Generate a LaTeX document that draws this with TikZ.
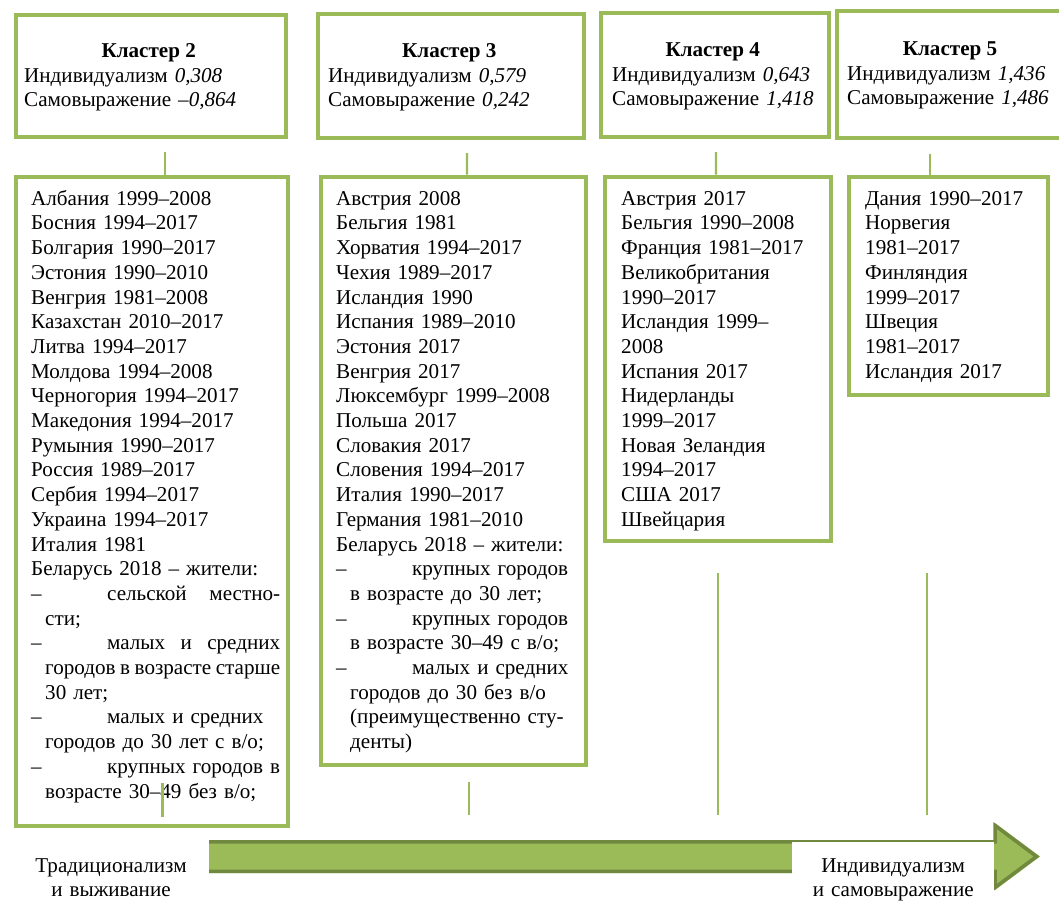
\documentclass[tikz,border=0pt]{standalone}
\usepackage{fontspec}
\setmainfont{Liberation Serif}
\definecolor{gborder}{HTML}{9BBB59}
\definecolor{gdark}{HTML}{71893F}
\newcommand\fs{\fontsize{21.1pt}{24.7pt}\selectfont}
\newcommand\fst{\rule{0pt}{17.3pt}}
\newcommand\dItem[1]{\makebox[76pt][l]{–}#1}
\newcommand\cont[1]{\hspace*{14pt}#1}
\newcommand\jline[1]{\leavevmode\hbox to 249pt{#1}}
\newcommand\fg{\hskip 0pt plus 1fil\relax}
\begin{document}
\begin{tikzpicture}[x=1pt,y=-1pt,
  box/.style={draw=gborder, line width=4pt, inner sep=0pt, anchor=north west},
  link/.style={draw=gborder, line width=2.2pt},
  txt/.style={font=\fs, inner sep=0pt, anchor=north west, align=left},
  title/.style={font=\fs\bfseries, inner sep=0pt, anchor=base}]
\useasboundingbox (0,0) rectangle (1059,902);
\clip (0,0) rectangle (1059,902);

% header boxes
\node[box, minimum width=270pt, minimum height=122.3pt] (h1) at (13.7,13) {};
\node[box, minimum width=266pt, minimum height=124.3pt] (h2) at (316.3,12) {};
\node[box, minimum width=228pt, minimum height=124.3pt] (h3) at (598.7,11) {};
\node[box, minimum width=229.7pt, minimum height=127.3pt] (h4) at (835.3,8.7) {};

% list boxes
\node[box, minimum width=272.6pt, minimum height=649pt] (l1) at (13.7,174.7) {};
\node[box, minimum width=265.3pt, minimum height=588.3pt] (l2) at (318.7,174.7) {};
\node[box, minimum width=225.7pt, minimum height=364pt] (l3) at (603,174.7) {};
\node[box, minimum width=199pt, minimum height=218.3pt] (l4) at (847,174.7) {};

% header texts
\node[title] (t1) at (148.7,57) {Кластер 2};
\node[txt, text width=250pt] (v1) at (24,64.7) {\fst Индивидуализм \textit{0,308}\\Самовыражение \textit{–0,864}};
\node[title] (t2) at (449.3,57) {Кластер 3};
\node[txt, text width=245pt] (v2) at (328,64.7) {\fst Индивидуализм \textit{0,579}\\Самовыражение \textit{0,242}};
\node[title] (t3) at (712.7,56) {Кластер 4};
\node[txt, text width=215pt] (v3) at (612,63.7) {\fst Индивидуализм \textit{0,643}\\Самовыражение \textit{1,418}};
\node[title] (t4) at (950,55) {Кластер 5};
\node[txt, text width=215pt] (v4) at (847,62.7) {\fst Индивидуализм \textit{1,436}\\Самовыражение \textit{1,486}};

% list texts
\node[txt, text width=262pt] (x1) at (31,187.7) {\fst Албания 1999–2008\\
Босния 1994–2017\\
Болгария 1990–2017\\
Эстония 1990–2010\\
Венгрия 1981–2008\\
Казахстан 2010–2017\\
Литва 1994–2017\\
Молдова 1994–2008\\
Черногория 1994–2017\\
Македония 1994–2017\\
Румыния 1990–2017\\
Россия 1989–2017\\
Сербия 1994–2017\\
Украина 1994–2017\\
Италия 1981\\
Беларусь 2018 – жители:\\
\jline{\dItem{сельской}\hfill местно-}\\
\cont{сти;}\\
\jline{\dItem{малых}\hfill и\hfill средних}\\
\leavevmode\hspace*{14pt}\hbox to 235pt{городов\fg в\fg возрасте\fg старше}\\
\cont{30 лет;}\\
\dItem{малых и средних}\\
\cont{городов до 30 лет с в/о;}\\
\dItem{крупных городов в}\\
\cont{возрасте 30–49 без в/о;}};

\node[txt, text width=245pt] (x2) at (336,187.7) {\fst Австрия 2008\\
Бельгия 1981\\
Хорватия 1994–2017\\
Чехия 1989–2017\\
Исландия 1990\\
Испания 1989–2010\\
Эстония 2017\\
Венгрия 2017\\
Люксембург 1999–2008\\
Польша 2017\\
Словакия 2017\\
Словения 1994–2017\\
Италия 1990–2017\\
Германия 1981–2010\\
Беларусь 2018 – жители:\\
\dItem{крупных городов}\\
\cont{в возрасте до 30 лет;}\\
\dItem{крупных городов}\\
\cont{в возрасте 30–49 с в/о;}\\
\dItem{малых и средних}\\
\cont{городов до 30 без в/о}\\
\cont{(преимущественно сту-}\\
\cont{денты)}};

\node[txt, text width=205pt] (x3) at (621,187.7) {\fst Австрия 2017\\
Бельгия 1990–2008\\
Франция 1981–2017\\
Великобритания\\
1990–2017\\
Исландия 1999–\\
2008\\
Испания 2017\\
Нидерланды\\
1999–2017\\
Новая Зеландия\\
1994–2017\\
США 2017\\
Швейцария};

\node[txt, text width=180pt] (x4) at (865,187.7) {\fst Дания 1990–2017\\
Норвегия\\
1981–2017\\
Финляндия\\
1999–2017\\
Швеция\\
1981–2017\\
Исландия 2017};

% connectors header -> list
\draw[link] ([xshift=14.3pt,yshift=-12.7pt]h1.south) -- ([xshift=13pt]l1.north);
\draw[link] ([xshift=15.7pt,yshift=-12.7pt]h2.south) -- ([xshift=13.65pt]l2.north);
\draw[link] ([xshift=1.3pt,yshift=-12.7pt]h3.south) -- ([xshift=-1.85pt]l3.north);
\draw[link] ([xshift=-22.15pt,yshift=-14pt]h4.south) -- ([xshift=-18.5pt]l4.north);

% lower vertical lines
\coordinate (v1a) at (162.5,783); \coordinate (v1b) at (162.5,817);
\coordinate (v2a) at (469,782);   \coordinate (v2b) at (469,815);
\coordinate (v3a) at (718,573);   \coordinate (v3b) at (718,815);
\coordinate (v4a) at (927,573);   \coordinate (v4b) at (927,815);
\draw[link] (v1a) -- (v1b);
\draw[link] (v2a) -- (v2b);
\draw[link] (v3a) -- (v3b);
\draw[link] (v4a) -- (v4b);

% big arrow
\fill[gborder] (209,840) -- (995,840) -- (995,823) -- (1040,856.5) -- (995,890) -- (995,873) -- (209,873) -- cycle;
\draw[gdark, line width=3.5pt, line join=miter] (209,841.75) -- (995,841.75) -- (995,825.5) -- (1036.5,856.5) -- (995,887.5) -- (995,871.25) -- (209,871.25);

% axis labels
\node[font=\fs, inner sep=0pt, anchor=north, text width=180pt, align=center] (trad) at (111,854.7) {\fst Традиционализм\\и выживание};
\node[font=\fs, fill=white, anchor=north west, text width=202pt, inner xsep=0pt, inner ysep=13.2pt, align=center] (indiv) at (792,841.5) {\fst Индивидуализм\\и самовыражение};
\end{tikzpicture}
\end{document}
